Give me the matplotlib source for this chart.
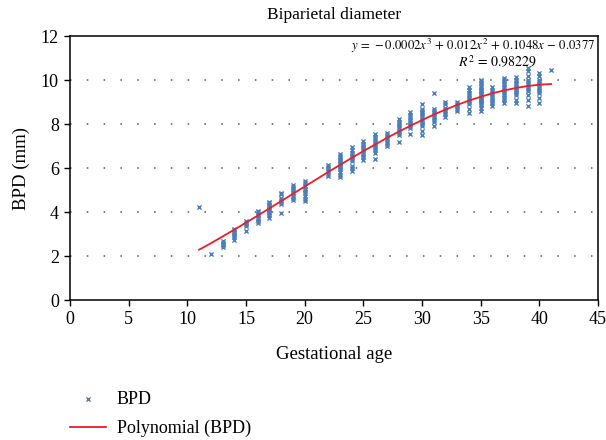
import matplotlib
matplotlib.use("Agg")
import matplotlib.pyplot as plt
import numpy as np

plt.rcParams['font.family'] = ['Liberation Serif', 'DejaVu Serif']
plt.rcParams['mathtext.fontset'] = 'stix'

weeks = [11, 12, 13, 14, 15, 16, 17, 18, 19, 20, 22, 23, 24, 25, 26, 27, 28,
         29, 30, 31, 32, 33, 34, 35, 36, 37, 38, 39, 40, 41]
bpd_values = [
    [4.25],
    [2.1],
    [2.4, 2.5, 2.55, 2.6, 2.7],
    [2.75, 2.85, 2.95, 3.05, 3.1, 3.2, 3.25],
    [3.15, 3.35, 3.45, 3.5, 3.6],
    [3.5, 3.6, 3.7, 3.75, 3.85, 3.9, 4.0, 4.05],
    [3.75, 3.85, 3.95, 4.0, 4.1, 4.15, 4.25, 4.3, 4.4, 4.45],
    [3.95, 4.35, 4.45, 4.55, 4.65, 4.8, 4.85],
    [4.55, 4.65, 4.75, 4.85, 4.95, 5.05, 5.15, 5.25],
    [4.5, 4.6, 4.75, 4.85, 4.95, 5.05, 5.2, 5.3, 5.4],
    [5.65, 5.75, 5.85, 5.95, 6.05, 6.15],
    [5.6, 5.7, 5.8, 5.95, 6.05, 6.1, 6.2, 6.25, 6.3, 6.35, 6.45, 6.55, 6.65],
    [5.85, 6.0, 6.1, 6.3, 6.4, 6.5, 6.6, 6.7, 6.8, 6.95],
    [6.35, 6.5, 6.6, 6.7, 6.8, 6.9, 7.0, 7.1, 7.25],
    [6.4, 6.7, 6.8, 6.9, 7.0, 7.1, 7.2, 7.3, 7.4, 7.55],
    [7.0, 7.1, 7.2, 7.3, 7.4, 7.5, 7.6],
    [7.2, 7.5, 7.6, 7.7, 7.8, 7.9, 8.0, 8.1, 8.25],
    [7.55, 7.8, 7.9, 8.0, 8.1, 8.2, 8.3, 8.4, 8.55],
    [7.5, 7.7, 7.9, 8.0, 8.1, 8.2, 8.3, 8.4, 8.5, 8.6, 8.7, 8.9],
    [7.9, 8.1, 8.2, 8.3, 8.4, 8.5, 8.6, 8.7, 9.4],
    [8.3, 8.45, 8.55, 8.65, 8.75, 8.9, 9.0],
    [8.6, 8.7, 8.8, 8.9, 9.0],
    [8.5, 8.7, 8.9, 9.0, 9.1, 9.2, 9.3, 9.4, 9.55, 9.7],
    [8.6, 8.75, 8.85, 8.95, 9.05, 9.1, 9.15, 9.2, 9.3, 9.35, 9.4, 9.5, 9.55,
     9.65, 9.75, 9.85, 9.95, 10.0],
    [8.8, 8.95, 9.05, 9.15, 9.25, 9.35, 9.45, 9.55, 9.7],
    [8.95, 9.1, 9.2, 9.3, 9.4, 9.5, 9.6, 9.7, 9.8, 9.9, 10.0, 10.1],
    [8.95, 9.1, 9.3, 9.4, 9.5, 9.6, 9.7, 9.8, 9.9, 10.0, 10.15],
    [8.8, 9.1, 9.3, 9.5, 9.6, 9.7, 9.8, 9.9, 10.0, 10.2, 10.4, 10.55],
    [8.95, 9.2, 9.4, 9.5, 9.6, 9.7, 9.8, 9.9, 10.0, 10.2, 10.3],
    [10.45],
]

# trend line as drawn on the chart
trend_x = [11, 12, 13, 14, 15, 16, 17, 18, 19, 20, 21, 22, 23, 24, 25, 26,
           27, 28, 29, 30, 31, 32, 33, 34, 35, 36, 37, 38, 39, 40, 41]
trend_y = [2.29, 2.58, 2.89, 3.20, 3.52, 3.84, 4.17, 4.50, 4.83, 5.16, 5.49,
           5.82, 6.14, 6.46, 6.77, 7.07, 7.37, 7.65, 7.92, 8.18, 8.43, 8.66,
           8.87, 9.07, 9.24, 9.40, 9.53, 9.64, 9.73, 9.79, 9.82]

x_ticks = [0, 5, 10, 15, 20, 25, 30, 35, 40, 45]
y_ticks = [0, 2, 4, 6, 8, 10, 12]

age = []
bpd = []
for w, vals in zip(weeks, bpd_values):
    age += [w] * len(vals)
    bpd += vals

fig = plt.figure(figsize=(6.06, 4.4), dpi=100)
ax = fig.add_axes([0.1155, 0.318, 0.8713, 0.600])

for y in y_ticks[1:-1]:
    ax.axhline(y, color='#555555', linewidth=1.1, linestyle=(0, (1, 10)), zorder=0)

sc = ax.scatter(age, bpd, marker='x', s=9, linewidths=1.0, color='#4a7ebb',
                zorder=2, label='BPD')
ln, = ax.plot(trend_x, trend_y, color='#ee1c25', linewidth=1.3, zorder=3,
              label='Polynomial (BPD)')

ax.set_xlim(0, 45)
ax.set_ylim(0, 12)
ax.set_xticks(x_ticks)
ax.set_yticks(y_ticks)
ax.tick_params(direction='out', length=4, width=1, labelsize=13, pad=4)
for s in ax.spines.values():
    s.set_linewidth(1.1)

ax.set_xlabel('Gestational age', fontsize=13.5, labelpad=13)
ax.set_ylabel('BPD (mm)', fontsize=13.5, labelpad=8)
ax.set_title('Biparietal diameter', fontsize=12.5, pad=12)

ax.text(0.995, 0.962,
        r'$y\,=\,-0.0002x^3\,+\,0.012x^2\,+\,0.1048x\,-\,0.0377$',
        transform=ax.transAxes, ha='right', va='center', fontsize=9.2)
ax.text(0.81, 0.9, r'$R^2\,=\,0.98229$', transform=ax.transAxes,
        ha='center', va='center', fontsize=10)

fig.legend(handles=[sc, ln], loc='upper left', bbox_to_anchor=(0.115, 0.111),
           frameon=False, fontsize=13, handlelength=2.0, handletextpad=0.6,
           labelspacing=0.65, borderaxespad=0, borderpad=0)

fig.savefig('out.png', dpi=100)
